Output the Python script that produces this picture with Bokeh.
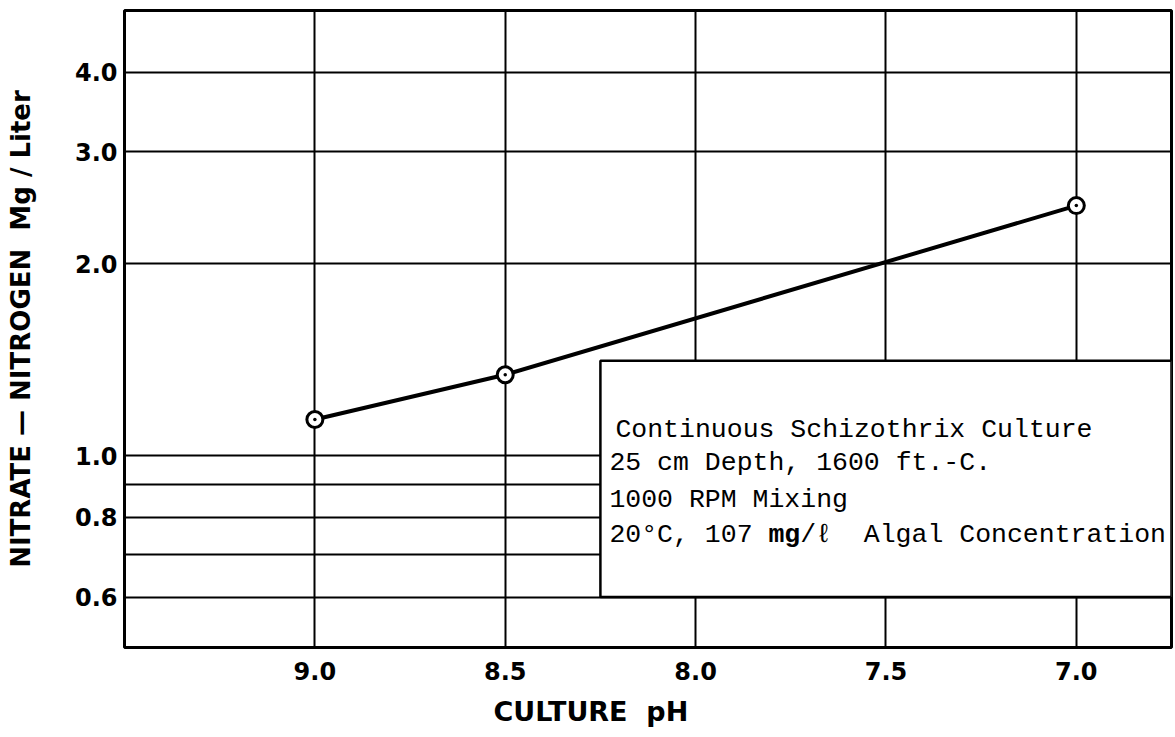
from bokeh.plotting import figure
from bokeh.models import Range1d, FixedTicker, PrintfTickFormatter, BoxAnnotation, Label, Title
from bokeh.embed import file_html
from bokeh.resources import INLINE

# ---- data ----
ph = [9.0, 8.5, 7.0]
nitrate = [1.14, 1.34, 2.47]

x_ticks = [9.0, 8.5, 8.0, 7.5, 7.0]
y_labeled_ticks = [0.6, 0.8, 1.0, 2.0, 3.0, 4.0]
y_grid_ticks = [0.6, 0.7, 0.8, 0.9, 1.0, 2.0, 3.0, 4.0]

x_label = "CULTURE\u00a0\u00a0pH"
y_label = "NITRATE \u2014 NITROGEN\u00a0\u00a0Mg / Liter"

note_lines = [
    "Continuous Schizothrix Culture",
    "25 cm Depth, 1600 ft.-C.",
    "1000 RPM Mixing",
]
note_last_parts = ["20\u00b0C, 107 ", "mg", "/\u2113\u00a0\u00a0Algal Concentration"]

p = figure(
    width=1175, height=737,
    y_axis_type="log",
    x_range=Range1d(9.5, 6.75),
    y_range=Range1d(0.5, 5.0),
    output_backend="svg", toolbar_location=None,
    min_border_left=124, min_border_right=4,
    min_border_top=10, min_border_bottom=90,
)
p.background_fill_color = "white"
p.border_fill_color = "white"
p.outline_line_color = "black"
p.outline_line_width = 3

# ticks / grids
p.xaxis.ticker = FixedTicker(ticks=x_ticks)
p.xgrid.ticker = FixedTicker(ticks=x_ticks)
p.yaxis.ticker = FixedTicker(ticks=y_labeled_ticks)
p.ygrid.ticker = FixedTicker(ticks=y_grid_ticks)
p.xaxis.formatter = PrintfTickFormatter(format="%.1f")
p.yaxis.formatter = PrintfTickFormatter(format="%.1f")

for g in (p.xgrid, p.ygrid):
    g.grid_line_color = "black"
    g.grid_line_width = 2
    g.grid_line_alpha = 1

for ax in (p.xaxis, p.yaxis):
    ax.axis_line_color = None
    ax.major_tick_line_color = None
    ax.minor_tick_line_color = None
    ax.major_tick_out = 0
    ax.major_tick_in = 0
    ax.minor_tick_out = 0
    ax.minor_tick_in = 0
    ax.major_label_text_font = "DejaVu Sans"
    ax.major_label_text_font_style = "bold"
    ax.major_label_text_font_size = "24px"
    ax.major_label_text_color = "black"

p.xaxis.major_label_standoff = 14
p.yaxis.major_label_standoff = 7

p.yaxis.axis_label = y_label
p.yaxis.axis_label_text_font = "DejaVu Sans"
p.yaxis.axis_label_text_font_style = "bold"
p.yaxis.axis_label_text_font_size = "26px"
p.yaxis.axis_label_text_color = "black"
p.yaxis.axis_label_standoff = 36

# x axis title, placed left of centre as in the reference
xt = Title(text=x_label, align="left", offset=369, text_font="DejaVu Sans",
           text_font_size="27px", text_font_style="bold", text_color="black",
           standoff=22, vertical_align="bottom")
p.add_layout(xt, "below")

# data
p.line(ph, nitrate, line_color="black", line_width=4)
p.scatter(ph, nitrate, marker="circle", size=16, fill_color="white",
          line_color="black", line_width=3)
p.scatter(ph, nitrate, marker="circle", size=3.5, fill_color="black",
          line_color="black", line_width=0)

# annotation box
box = BoxAnnotation(left=8.25, right=6.75, bottom=0.6, top=1.41,
                    fill_color="white", fill_alpha=1.0,
                    line_color="black", line_width=2.5, line_alpha=1.0)
p.add_layout(box)

mono = "Liberation Mono"
fs = 26.5
cw = fs * 0.6
ys = [1.099, 0.975, 0.853, 0.751]
offs = [15, 9, 9, 9]
for txt, yy, xo in zip(note_lines, ys[:3], offs[:3]):
    p.add_layout(Label(x=8.25, y=yy, x_offset=xo, text=txt, text_font=mono,
                       text_font_size=f"{fs}px", text_color="black",
                       text_baseline="alphabetic", text_align="left"))
pos = 0
for i, part in enumerate(note_last_parts):
    p.add_layout(Label(x=8.25, y=ys[3], x_offset=offs[3] + pos * cw, text=part,
                       text_font=mono, text_font_size=f"{fs}px",
                       text_font_style="bold" if i == 1 else "normal",
                       text_color="black", text_baseline="alphabetic",
                       text_align="left"))
    pos += len(part)

open("out.html", "w").write(file_html(p, INLINE))
